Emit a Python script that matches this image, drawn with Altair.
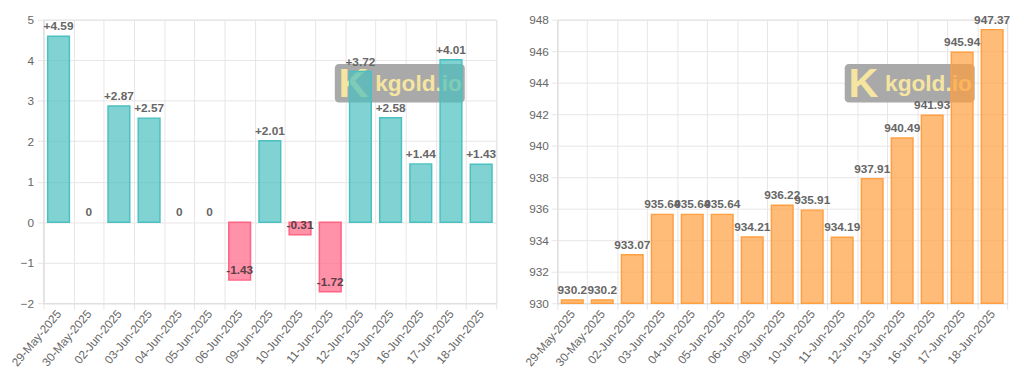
import altair as alt
import pandas as pd

dates = ["29-May-2025", "30-May-2025", "02-Jun-2025", "03-Jun-2025", "04-Jun-2025",
         "05-Jun-2025", "06-Jun-2025", "09-Jun-2025", "10-Jun-2025", "11-Jun-2025",
         "12-Jun-2025", "13-Jun-2025", "16-Jun-2025", "17-Jun-2025", "18-Jun-2025"]
changes = [4.59, 0, 2.87, 2.57, 0, 0, -1.43, 2.01, -0.31, -1.72, 3.72, 2.58, 1.44, 4.01, 1.43]
prices = [930.2, 930.2, 933.07, 935.64, 935.64, 935.64, 934.21, 936.22, 935.91, 934.19,
          937.91, 940.49, 941.93, 945.94, 947.37]

change_domain = [-2, 5]
price_domain = [930, 948]


def fmt_change(v):
    if v > 0:
        return f"+{v:g}"
    return f"{v:g}"


df_c = pd.DataFrame({"date": dates, "change": changes,
                     "label": [fmt_change(v) for v in changes]})
df_p = pd.DataFrame({"date": dates, "price": prices,
                     "label": [f"{v:g}" for v in prices]})
dummy = pd.DataFrame({"a": [0]})

FONT = "Liberation Sans"
GRID = "#e9e5e7"
TEAL = "#4bc0c0"
PINK = "#ff6384"
ORANGE = "#ff9f40"
W, H = 460, 288

x_enc = alt.X("date:N", sort=dates, title=None,
              scale=alt.Scale(paddingInner=0, paddingOuter=0),
              axis=alt.Axis(labelAngle=-50, tickBand="extent", grid=True, gridColor=GRID,
                            tickColor=GRID, tickSize=6, labelPadding=2, labelColor="#666",
                            labelFontSize=12, labelFont=FONT, domainColor="#ddd",
                            labelOverlap=False))


def watermark(x0, y0):
    rect = alt.Chart(dummy).mark_rect(cornerRadius=4, color="#a9a9a9").encode(
        x=alt.value(x0), x2=alt.value(x0 + 132), y=alt.value(y0), y2=alt.value(y0 + 39))
    k = alt.Chart(dummy).mark_text(text="K", font=FONT, fontWeight="bold", fontSize=42,
                                   color="#f6e5a0", align="center", baseline="middle").encode(
        x=alt.value(x0 + 19), y=alt.value(y0 + 21))
    t = alt.Chart(dummy).mark_text(text="kgold.io", font=FONT, fontWeight="bold", fontSize=23,
                                   color="#f6e5a0", align="left", baseline="middle").encode(
        x=alt.value(x0 + 41), y=alt.value(y0 + 20))
    return [rect, k, t]


# Left panel
yc = alt.Y("change:Q", title=None, scale=alt.Scale(domain=change_domain, nice=False),
           axis=alt.Axis(values=list(range(change_domain[0], change_domain[1] + 1)),
                         gridColor=GRID, tickColor=GRID, tickSize=6, labelPadding=4,
                         labelColor="#666", labelFontSize=12, labelFont=FONT,
                         domainColor="#ddd", minExtent=24, labelOverlap=False))
neg = alt.datum.change < 0
zero = alt.datum.change == 0
bars_c = alt.Chart(df_c).mark_bar(width=alt.RelativeBandSize(0.72), strokeWidth=1.5,
                                  fillOpacity=0.7).encode(
    x=x_enc, y=yc, y2=alt.datum(0),
    fill=alt.condition(neg, alt.value(PINK), alt.value(TEAL)),
    stroke=alt.condition(neg, alt.value(PINK), alt.value(TEAL)),
    strokeOpacity=alt.condition(zero, alt.value(0), alt.value(1)))
labels_c = alt.Chart(df_c).mark_text(font=FONT, fontWeight="bold", fontSize=12,
                                     baseline="bottom", dy=-3).encode(
    x=x_enc, y=yc, text="label:N",
    color=alt.condition(neg, alt.value("#5a4048"), alt.value("#666")))
left = alt.layer(*watermark(296, 45), bars_c, labels_c).properties(width=W, height=H)

# Right panel
yp = alt.Y("price:Q", title=None, scale=alt.Scale(domain=price_domain, nice=False, zero=False),
           axis=alt.Axis(values=list(range(price_domain[0], price_domain[1] + 1, 2)),
                         gridColor=GRID, tickColor=GRID, tickSize=6, labelPadding=3,
                         labelColor="#666", labelFontSize=12, labelFont=FONT,
                         domainColor="#ddd", minExtent=36, maxExtent=36, labelOverlap=False))
bars_p = alt.Chart(df_p).mark_bar(width=alt.RelativeBandSize(0.72), strokeWidth=1.5,
                                  fill=ORANGE, fillOpacity=0.7, stroke=ORANGE).encode(
    x=x_enc, y=yp, y2=alt.datum(price_domain[0]))
labels_p = alt.Chart(df_p).mark_text(font=FONT, fontWeight="bold", fontSize=12,
                                     baseline="bottom", dy=-3, color="#666").encode(
    x=x_enc, y=yp, text="label:N")
right = alt.layer(*watermark(292, 45), bars_p, labels_p).properties(width=W - 3, height=H)

chart = alt.hconcat(left, right, spacing=24).resolve_scale(x="independent").properties(
    padding={"left": 0, "top": 2, "right": 5, "bottom": 0}
).configure_view(stroke=None).configure(background="white")

chart.save("out.html", embed_options={"renderer": "svg", "actions": False})
